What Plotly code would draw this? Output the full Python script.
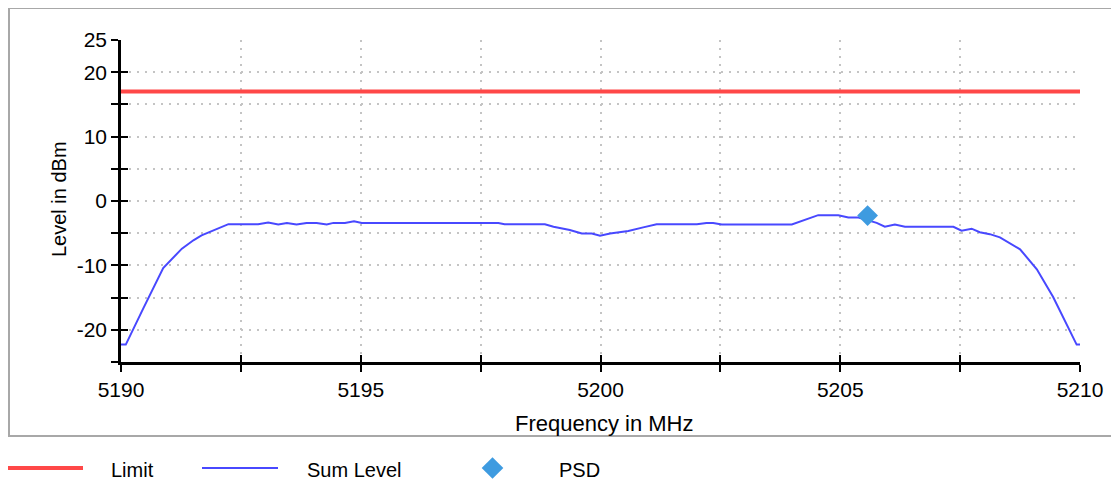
import plotly.graph_objects as go

# ---------------- data ----------------
limit_freq = [5190.0, 5210.0]
limit_level = [17.0, 17.0]

sum_freq = [5190.00, 5190.10, 5190.47, 5190.88, 5191.27, 5191.51, 5191.68, 5191.86,
            5192.24, 5192.86, 5193.07, 5193.28, 5193.46, 5193.66, 5193.87, 5194.08,
            5194.29, 5194.43, 5194.67, 5194.86, 5195.02, 5197.87, 5198.00, 5198.84,
            5199.02, 5199.36, 5199.61, 5199.82, 5199.99, 5200.20, 5200.58, 5200.89,
            5201.17, 5202.01, 5202.21, 5202.35, 5202.53, 5203.99, 5204.23, 5204.54,
            5204.96, 5205.17, 5205.38, 5205.76, 5205.93, 5206.14, 5206.35, 5207.36,
            5207.53, 5207.74, 5207.91, 5208.12, 5208.33, 5208.75, 5209.10, 5209.44,
            5209.93, 5210.00]
sum_level = [-22.3, -22.3, -16.6, -10.4, -7.4, -6.1, -5.35, -4.8,
             -3.6, -3.6, -3.35, -3.65, -3.4, -3.65, -3.4, -3.4,
             -3.65, -3.4, -3.4, -3.15, -3.4, -3.4, -3.6, -3.6,
             -4.0, -4.5, -5.05, -5.05, -5.4, -5.05, -4.65, -4.1,
             -3.6, -3.6, -3.4, -3.4, -3.65, -3.65, -3.0, -2.2,
             -2.2, -2.55, -2.55, -3.4, -4.0, -3.65, -4.0, -4.0,
             -4.6, -4.3, -4.85, -5.15, -5.65, -7.5, -10.6, -14.9,
             -22.3, -22.3]

psd_freq = [5205.57]
psd_level = [-2.27]

x_tickvals = [5190, 5192.5, 5195, 5197.5, 5200, 5202.5, 5205, 5207.5, 5210]
x_ticktext = ["5190", "", "5195", "", "5200", "", "5205", "", "5210"]
y_tickvals = [-25, -20, -15, -10, -5, 0, 5, 10, 15, 20, 25]
y_ticktext = ["", "-20", "", "-10", "", "0", "", "10", "", "20", "25"]

legend_names = ["Limit", "Sum Level", "PSD"]
x_title = "Frequency in MHz"
y_title = "Level in dBm"

# ---------------- style ----------------
RED = "#FF4848"
BLUE = "#4848FF"
DIAMOND = "#3E9BE0"
GRID = "#C4C4C4"
FONT = "Liberation Sans, Arial, Helvetica, sans-serif"
FS = 20

# page body adds an 8px offset; the figure is sized to the visible area
OFF = 8
W, H = 1119 - OFF, 482 - OFF
PL, PR, PT, PB = 121, 1080, 40, 362          # plot area in screen pixels
L, T = PL - OFF, PT - OFF
PW, PH = PR - PL, PB - PT
R, B = W - L - PW, H - T - PH


def px(xs):
    return (xs - PL) / PW


def py(ys):
    return (PB - ys) / PH


fig = go.Figure()

fig.add_trace(go.Scatter(x=limit_freq, y=limit_level, mode="lines",
                         line=dict(color=RED, width=4), name=legend_names[0],
                         showlegend=False))
fig.add_trace(go.Scatter(x=sum_freq, y=sum_level, mode="lines",
                         line=dict(color=BLUE, width=2), name=legend_names[1],
                         showlegend=False))
fig.add_trace(go.Scatter(x=psd_freq, y=psd_level, mode="markers",
                         marker=dict(symbol="diamond", size=16, color=DIAMOND,
                                     line=dict(width=0)),
                         name=legend_names[2], showlegend=False))
# invisible helper trace so that the overlay axes (inner tick halves) render
fig.add_trace(go.Scatter(x=limit_freq, y=limit_level, xaxis="x2", yaxis="y2",
                         mode="lines", line=dict(width=0), opacity=0,
                         hoverinfo="skip", showlegend=False))

axis_common = dict(showline=True, linecolor="black", linewidth=2.5,
                   ticks="outside", ticklen=7, tickwidth=2, tickcolor="black",
                   showgrid=True, gridcolor=GRID, gridwidth=2, griddash="2px,6px",
                   zeroline=False, tickfont=dict(family=FONT, size=21, color="black"),
                   tickmode="array", mirror=False)

fig.update_layout(
    width=W, height=H,
    margin=dict(l=L, r=R, t=T, b=B, pad=0),
    paper_bgcolor="white", plot_bgcolor="white",
    font=dict(family=FONT, size=FS, color="black"),
    xaxis=dict(range=[5190, 5210], tickvals=x_tickvals, ticktext=x_ticktext,
               **axis_common),
    yaxis=dict(range=[-25, 25], tickvals=y_tickvals, ticktext=y_ticktext,
               **axis_common),
    xaxis2=dict(range=[5190, 5210], overlaying="x", anchor="y", side="bottom",
                tickmode="array", tickvals=x_tickvals, ticks="inside", ticklen=7,
                tickwidth=2, tickcolor="black", showticklabels=False,
                showgrid=False, showline=False, zeroline=False),
    yaxis2=dict(range=[-25, 25], overlaying="y", anchor="x", side="left",
                tickmode="array", tickvals=y_tickvals, ticks="inside", ticklen=7,
                tickwidth=2, tickcolor="black", showticklabels=False,
                showgrid=False, showline=False, zeroline=False),
    showlegend=False,
)

shapes = []
annotations = []

# outer panel border
shapes.append(dict(type="rect", xref="paper", yref="paper",
                   x0=px(9), x1=px(1125), y0=py(436), y1=py(8),
                   line=dict(color="#A8A8A8", width=2), fillcolor="rgba(0,0,0,0)",
                   layer="below"))

# axis titles
annotations.append(dict(text=x_title, xref="paper", yref="paper",
                        x=px(604), y=py(423), xanchor="center", yanchor="middle",
                        showarrow=False, font=dict(family=FONT, size=22)))
annotations.append(dict(text=y_title, xref="paper", yref="paper",
                        x=px(59), y=py(199), xanchor="center", yanchor="middle",
                        textangle=-90, showarrow=False, font=dict(family=FONT, size=FS)))

# custom legend
ly = 468
shapes.append(dict(type="line", xref="paper", yref="paper",
                   x0=px(7), x1=px(83), y0=py(ly), y1=py(ly),
                   line=dict(color=RED, width=4)))
shapes.append(dict(type="line", xref="paper", yref="paper",
                   x0=px(202), x1=px(278), y0=py(ly), y1=py(ly),
                   line=dict(color=BLUE, width=2)))
cx, r = 492.5, 10.8
shapes.append(dict(type="path", xref="paper", yref="paper",
                   path=f"M {px(cx - r)},{py(ly)} L {px(cx)},{py(ly - r)} "
                        f"L {px(cx + r)},{py(ly)} L {px(cx)},{py(ly + r)} Z",
                   fillcolor=DIAMOND, line=dict(width=0)))
for name, xpos in zip(legend_names, [109, 305, 557]):
    annotations.append(dict(text=name, xref="paper", yref="paper",
                            x=px(xpos), y=py(ly + 2), xanchor="left", yanchor="middle",
                            showarrow=False, font=dict(family=FONT, size=FS)))

fig.update_layout(shapes=shapes, annotations=annotations)

fig.write_html("out.html")
